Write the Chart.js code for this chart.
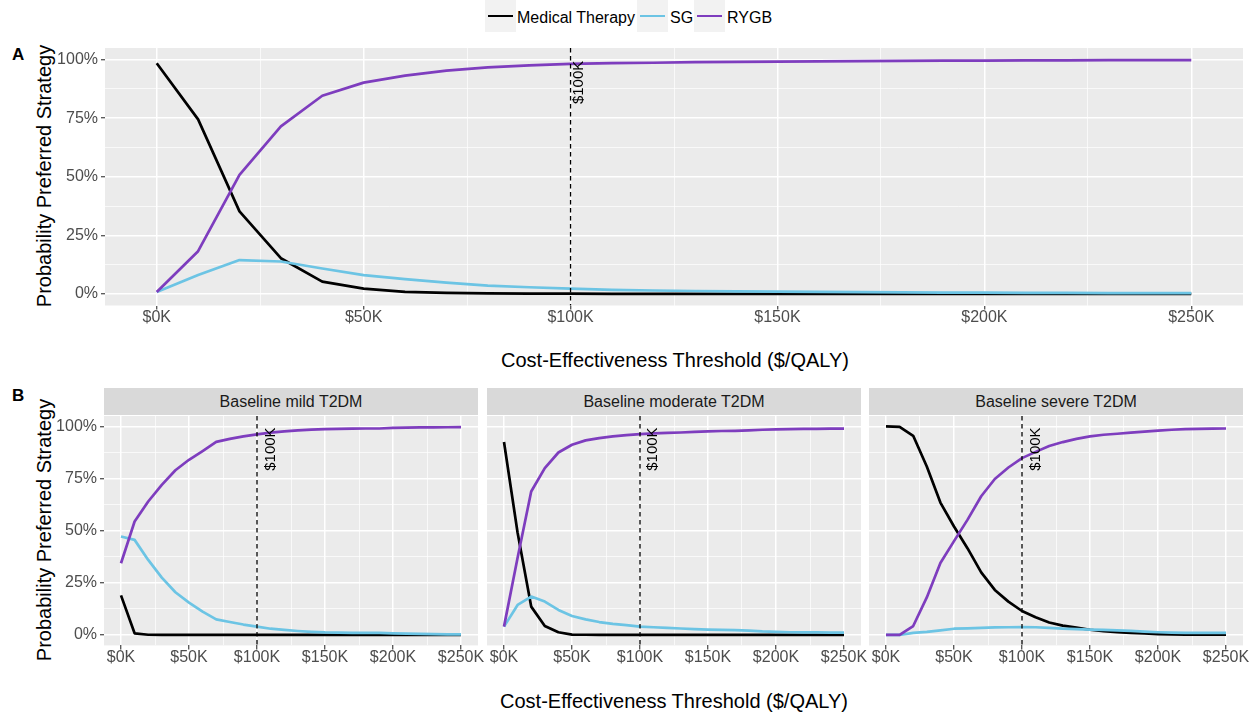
<!DOCTYPE html>
<html>
<head>
<meta charset="utf-8">
<title>Cost-effectiveness acceptability curves</title>
<script src="https://cdn.jsdelivr.net/npm/chart.js@4.4.1/dist/chart.umd.min.js"></script>
<style>
  html, body { margin: 0; padding: 0; background: #ffffff; }
  body { width: 1260px; height: 716px; position: relative; overflow: hidden;
         font-family: "Liberation Sans", Arial, Helvetica, sans-serif; }
  canvas { position: absolute; }
  .key { position: absolute; top: 0; width: 31px; height: 32px; background: #F2F2F2; }
  .key span { position: absolute; left: 3px; right: 3px; top: 14.5px; height: 2.8px; }
  .legtext { position: absolute; top: 10px; font-size: 16px; line-height: 16px; color: #000; white-space: nowrap; }
  .xtitle { position: absolute; width: 600px; text-align: center; font-size: 20px; line-height: 20px; color: #000; white-space: nowrap; }
  .ytitle { position: absolute; width: 300px; text-align: center; font-size: 20px; line-height: 20px; color: #000;
            white-space: nowrap; transform: rotate(-90deg); }
  .tag { position: absolute; font-size: 17px; line-height: 17px; font-weight: bold; color: #000; }
  .strip { position: absolute; top: 388px; height: 27px; background: #D9D9D9; color: #1A1A1A;
           font-size: 16px; line-height: 28px; text-align: center; white-space: nowrap; }
</style>
</head>
<body>

<!-- legend -->
<div class="key" style="left:485px"><span style="background:#000000"></span></div>
<div class="legtext" style="left:517px">Medical Therapy</div>
<div class="key" style="left:637px"><span style="background:#6CC4E4"></span></div>
<div class="legtext" style="left:670px">SG</div>
<div class="key" style="left:694px"><span style="background:#7E3DBE"></span></div>
<div class="legtext" style="left:727px">RYGB</div>

<!-- panel A -->
<div class="tag" style="left:12px;top:46px">A</div>
<div class="ytitle" style="left:-106px;top:166px">Probability Preferred Strategy</div>
<canvas id="panelA" width="1210" height="306" style="left:50px;top:34px"></canvas>
<div class="xtitle" style="left:375px;top:350px">Cost-Effectiveness Threshold ($/QALY)</div>

<!-- panel B -->
<div class="tag" style="left:12px;top:387px">B</div>
<div class="ytitle" style="left:-106px;top:520px">Probability Preferred Strategy</div>
<div class="strip" style="left:104px;width:374px" id="strip0"></div>
<div class="strip" style="left:487px;width:374px" id="strip1"></div>
<div class="strip" style="left:869px;width:374px" id="strip2"></div>
<canvas id="facetMild" width="436" height="278" style="left:50px;top:402px"></canvas>
<canvas id="facetModerate" width="384" height="278" style="left:487px;top:402px"></canvas>
<canvas id="facetSevere" width="386" height="278" style="left:869px;top:402px"></canvas>
<div class="xtitle" style="left:374px;top:691px">Cost-Effectiveness Threshold ($/QALY)</div>

<script>
// ---- willingness-to-pay thresholds ($K per QALY) and axis breaks ----
const thresholdK = [0,10,20,30,40,50,60,70,80,90,100,110,120,130,140,150,160,170,180,190,200,210,220,230,240,250];
const xGridK  = [0,25,50,75,100,125,150,175,200,225,250];
const xLabelK = [0,50,100,150,200,250];
const yGrid   = [0,0.125,0.25,0.375,0.5,0.625,0.75,0.875,1];
const yLabelPct = [0,25,50,75,100];

const seriesNames  = ['Medical Therapy','SG','RYGB'];
const seriesColors = ['#000000','#6CC4E4','#7E3DBE'];
const wtpLineK = 100;
const wtpLabel = '$100K';
const facetTitles = ['Baseline mild T2DM','Baseline moderate T2DM','Baseline severe T2DM'];

// ---- A: whole cohort ----
const allMedical = [0.985,0.745,0.352,0.152,0.052,0.022,0.008,0.004,0.002,0.001,0.001,0,0,0,0,0,0,0,0,0,0,0,0,0,0,0];
const allSG      = [0.008,0.080,0.144,0.138,0.108,0.080,0.063,0.048,0.035,0.028,0.022,0.017,0.014,0.012,0.010,0.009,0.008,0.007,0.006,0.005,0.005,0.004,0.004,0.003,0.003,0.003];
const allRYGB    = [0.008,0.182,0.508,0.715,0.846,0.902,0.932,0.953,0.967,0.976,0.982,0.985,0.987,0.990,0.991,0.992,0.993,0.994,0.995,0.996,0.996,0.997,0.997,0.998,0.998,0.998];

// ---- B: by baseline diabetes severity ----
const mildMedical = [0.190,0.008,0.001,0,0,0,0,0,0,0,0,0,0,0,0,0,0,0,0,0,0,0,0,0,0,0];
const mildSG      = [0.472,0.456,0.360,0.275,0.205,0.155,0.112,0.075,0.062,0.050,0.040,0.030,0.024,0.019,0.015,0.012,0.011,0.010,0.010,0.010,0.008,0.006,0.005,0.004,0.003,0.003];
const mildRYGB    = [0.344,0.544,0.640,0.720,0.790,0.840,0.882,0.926,0.940,0.952,0.962,0.970,0.976,0.981,0.985,0.987,0.988,0.989,0.990,0.990,0.993,0.994,0.995,0.995,0.996,0.997];

const moderateMedical = [0.925,0.490,0.136,0.043,0.013,0.002,0.001,0,0,0,0,0,0,0,0,0,0,0,0,0,0,0,0,0,0,0];
const moderateSG      = [0.040,0.144,0.184,0.160,0.120,0.091,0.075,0.062,0.053,0.047,0.040,0.037,0.034,0.031,0.028,0.026,0.024,0.023,0.021,0.017,0.015,0.013,0.012,0.012,0.011,0.011];
const moderateRYGB    = [0.040,0.370,0.688,0.800,0.875,0.912,0.933,0.944,0.952,0.958,0.963,0.967,0.969,0.971,0.974,0.976,0.978,0.979,0.981,0.984,0.986,0.987,0.988,0.988,0.989,0.989];

const severeMedical = [1.000,0.998,0.955,0.808,0.635,0.520,0.415,0.300,0.216,0.160,0.115,0.085,0.060,0.045,0.035,0.025,0.018,0.014,0.010,0.007,0.004,0.003,0.002,0.001,0.001,0.001];
const severeSG      = [0,0,0.010,0.015,0.022,0.030,0.032,0.034,0.036,0.037,0.038,0.037,0.034,0.030,0.028,0.026,0.024,0.022,0.020,0.016,0.013,0.011,0.010,0.010,0.010,0.010];
const severeRYGB    = [0,0,0.043,0.180,0.345,0.450,0.553,0.665,0.748,0.803,0.848,0.878,0.906,0.925,0.940,0.952,0.960,0.965,0.970,0.975,0.980,0.984,0.987,0.988,0.989,0.990];

facetTitles.forEach((t, i) => { document.getElementById('strip' + i).textContent = t; });

Chart.defaults.font.family = '"Liberation Sans", Arial, Helvetica, sans-serif';

// grey panel background behind the grid
const panelBg = {
  id: 'panelBg',
  beforeDraw(chart) {
    const { ctx, chartArea: a } = chart;
    ctx.save();
    ctx.fillStyle = '#EBEBEB';
    ctx.fillRect(a.left, a.top, a.right - a.left, a.bottom - a.top);
    ctx.restore();
  }
};

// dashed reference line at the $100K threshold with its rotated label
const wtpMarker = {
  id: 'wtpMarker',
  afterDatasetsDraw(chart, args, opts) {
    const { ctx, chartArea: a, scales } = chart;
    const x = scales.x.getPixelForValue(wtpLineK);
    ctx.save();
    ctx.beginPath();
    ctx.setLineDash([4.5, 3.5]);
    ctx.strokeStyle = '#000000';
    ctx.lineWidth = 1.3;
    ctx.moveTo(x, a.top);
    ctx.lineTo(x, a.bottom);
    ctx.stroke();
    ctx.setLineDash([]);
    ctx.translate(x + opts.offset, scales.y.getPixelForValue(1) + 1);
    ctx.rotate(-Math.PI / 2);
    ctx.font = '15px "Liberation Sans", Arial, sans-serif';
    ctx.fillStyle = '#000000';
    ctx.textAlign = 'right';
    ctx.textBaseline = 'middle';
    ctx.fillText(wtpLabel, 0, 0);
    ctx.restore();
  }
};

const isMajorX = v => xLabelK.includes(v);
const isMajorY = v => yLabelPct.includes(Math.round(v * 1000) / 10);

function makePanel(id, medical, sg, rygb, cfg) {
  const series = [medical, sg, rygb];
  const datasets = series.map((vals, i) => ({
    label: seriesNames[i],
    data: thresholdK.map((t, j) => ({ x: t, y: vals[j] })),
    borderColor: seriesColors[i],
    backgroundColor: seriesColors[i],
    borderWidth: 2.7,
    borderJoinStyle: 'round',
    pointRadius: 0,
    tension: 0,
    fill: false,
    order: 3 - i
  }));
  return new Chart(document.getElementById(id), {
    type: 'line',
    data: { datasets },
    options: {
      responsive: false,
      animation: false,
      devicePixelRatio: 1,
      layout: { padding: cfg.padding },
      plugins: {
        legend: { display: false },
        tooltip: { enabled: false },
        wtpMarker: { offset: cfg.labelOffset }
      },
      scales: {
        x: {
          type: 'linear',
          min: -12.5,
          max: 262.5,
          afterBuildTicks: s => { s.ticks = xGridK.map(v => ({ value: v })); },
          afterFit: s => { s.height = cfg.xHeight; },
          border: { display: false },
          grid: {
            color: '#FFFFFF',
            lineWidth: c => isMajorX(c.tick.value) ? 1.5 : 0.7,
            tickColor: c => isMajorX(c.tick.value) ? '#333333' : 'rgba(0,0,0,0)',
            tickLength: 4,
            tickWidth: 1.1
          },
          ticks: {
            callback: v => isMajorX(v) ? '$' + v + 'K' : '',
            color: '#4D4D4D',
            font: { size: 16, lineHeight: 1 },
            maxRotation: 0,
            autoSkip: false,
            padding: 0
          }
        },
        y: {
          type: 'linear',
          min: -0.05,
          max: 1.05,
          afterBuildTicks: s => { s.ticks = yGrid.map(v => ({ value: v })); },
          afterFit: s => { s.width = cfg.yWidth; },
          border: { display: false },
          grid: {
            color: '#FFFFFF',
            lineWidth: c => isMajorY(c.tick.value) ? 1.5 : 0.7,
            tickColor: c => (cfg.yLabels && isMajorY(c.tick.value)) ? '#333333' : 'rgba(0,0,0,0)',
            tickLength: 4,
            tickWidth: 1.1
          },
          ticks: {
            callback: v => (cfg.yLabels && isMajorY(v)) ? Math.round(v * 100) + '%' : '',
            color: '#4D4D4D',
            font: { size: 16, lineHeight: 1 },
            autoSkip: false,
            padding: 3
          }
        }
      }
    },
    plugins: [panelBg, wtpMarker]
  });
}

makePanel('panelA', allMedical, allSG, allRYGB,
  { padding: { top: 14, right: 17, left: 0, bottom: 0 }, xHeight: 34.5, yWidth: 55, yLabels: true, labelOffset: 8.5 });
makePanel('facetMild', mildMedical, mildSG, mildRYGB,
  { padding: { top: 14, right: 8, left: 0, bottom: 0 }, xHeight: 34.6, yWidth: 54, yLabels: true, labelOffset: 14 });
makePanel('facetModerate', moderateMedical, moderateSG, moderateRYGB,
  { padding: { top: 14, right: 10, left: 0, bottom: 0 }, xHeight: 34.6, yWidth: 0, yLabels: false, labelOffset: 13 });
makePanel('facetSevere', severeMedical, severeSG, severeRYGB,
  { padding: { top: 14, right: 12, left: 0, bottom: 0 }, xHeight: 34.6, yWidth: 0, yLabels: false, labelOffset: 14 });
</script>
</body>
</html>
